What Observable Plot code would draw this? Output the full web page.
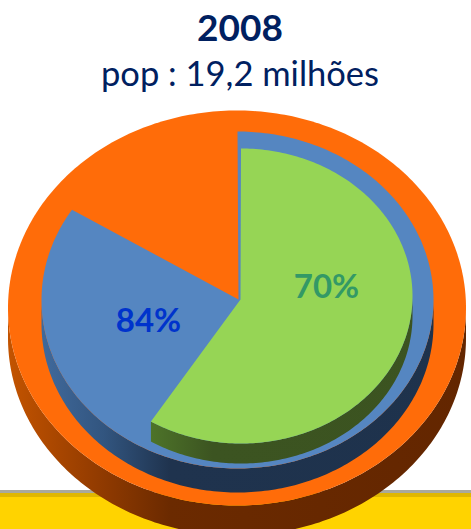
<!DOCTYPE html>
<html lang="pt">
<head>
<meta charset="utf-8">
<script src="https://cdn.jsdelivr.net/npm/d3@7"></script>
<script src="https://cdn.jsdelivr.net/npm/@observablehq/plot@0.6"></script>
<style>
  html, body { margin: 0; padding: 0; background: #fff; width: 471px; height: 529px; overflow: hidden; }
  #head { height: 100px; text-align: center; color: #002060; font-family: Lato, sans-serif; position: relative; }
  #title { position: absolute; left: 0; width: 480px; top: 5px; font-size: 37px; font-weight: 700; line-height: 44px; }
  #sub { position: absolute; left: 0; width: 480px; top: 53px; font-size: 34.5px; line-height: 40px; }
  svg { display: block; }
</style>
</head>
<body>
<div id="head"><div id="title">2008</div><div id="sub">pop : 19,2 milhões</div></div>
<div id="chart"></div>
<script>
const title = "2008";
const categories = ["84%", "70%"];
const shares = [84, 70];                 // nested: the 70% is a share of the 84%

const blueShare = shares[0] / 100;
const greenShare = blueShare * shares[1] / 100;

// layout of the three tilted discs
const base = {cx: 236.5, cy: 307.5, rx: 229, ry: 197.5, t: 30};
const blue = {cx: 237, cy: 299.5, rx: 196, ry: 168.5, t: 24, ax: 238, ay: 299};
const green = {cx: 240.5, cy: 295.5, rx: 171.5, ry: 147.5, t: 20, ax: 240, ay: 299};

const pt = (d, deg, dy = 0) => {
  const a = deg * Math.PI / 180;
  return {x: d.cx + d.rx * Math.sin(a), y: d.cy - d.ry * Math.cos(a) + dy};
};
const arc = (d, from, to, dy = 0) => d3.range(from, to, 1).concat(to).map((a) => pt(d, a, dy));
const wedge = (d, share) => [{x: d.ax, y: d.ay}, ...arc(d, 0, 360 * share)];
const side = (d, from, to) => [...arc(d, from, to), ...arc(d, from, to, d.t).reverse()];

const band = [
  {y1: 490, y2: 493, fill: "#a9a99c"},
  {y1: 493, y2: 497, fill: "#e0b700"},
  {y1: 497, y2: 529, fill: "#ffd300"}
];

const gradient = (id, stops) => `<linearGradient id="${id}" gradientUnits="userSpaceOnUse" x1="0" x2="471" y1="0" y2="0">${
  stops.map(([o, c]) => `<stop offset="${o}" stop-color="${c}"/>`).join("")}</linearGradient>`;
const defs = () => {
  const g = document.createElementNS("http://www.w3.org/2000/svg", "g");
  g.innerHTML = "<defs>" +
    gradient("sideOrange", [[0.02, "#c25300"], [0.2, "#943c00"], [0.36, "#6b2a00"], [1, "#632600"]]) +
    gradient("sideBlue", [[0.09, "#40699b"], [0.22, "#32557f"], [0.36, "#1f334e"], [1, "#1e324c"]]) +
    gradient("sideGreen", [[0.32, "#4d7329"], [0.45, "#3c5421"], [1, "#3b5320"]]) +
    "</defs>";
  return g;
};

const poly = (rows, fill) => Plot.line(rows, {x: "x", y: "y", fill, stroke: "none", curve: "linear"});

const chart = Plot.plot({
  width: 471,
  height: 429,
  margin: 0,
  x: {domain: [0, 471], range: [0, 471], axis: null},
  y: {domain: [100, 529], range: [0, 429], axis: null},
  marks: [
    defs,
    Plot.rect(band, {x1: () => 0, x2: () => 471, y1: "y1", y2: "y2", fill: "fill"}),
    poly(side(base, 90, 270), "url(#sideOrange)"),
    poly(arc(base, 0, 360), "#ff6c09"),
    poly(side(blue, 90, 270), "url(#sideBlue)"),
    poly(wedge(blue, blueShare), "#5586c1"),
    poly(side(green, 90, 360 * greenShare), "url(#sideGreen)"),
    poly(wedge(green, greenShare), "#96d555"),
    Plot.text([categories[0]], {x: () => 148, y: () => 321, text: (d) => d, fill: "#0033cc", fontSize: 33, fontWeight: 700, fontFamily: "Lato, sans-serif"}),
    Plot.text([categories[1]], {x: () => 326, y: () => 287, text: (d) => d, fill: "#339966", fontSize: 33, fontWeight: 700, fontFamily: "Lato, sans-serif"})
  ]
});
document.getElementById("chart").appendChild(chart);
</script>
</body>
</html>
